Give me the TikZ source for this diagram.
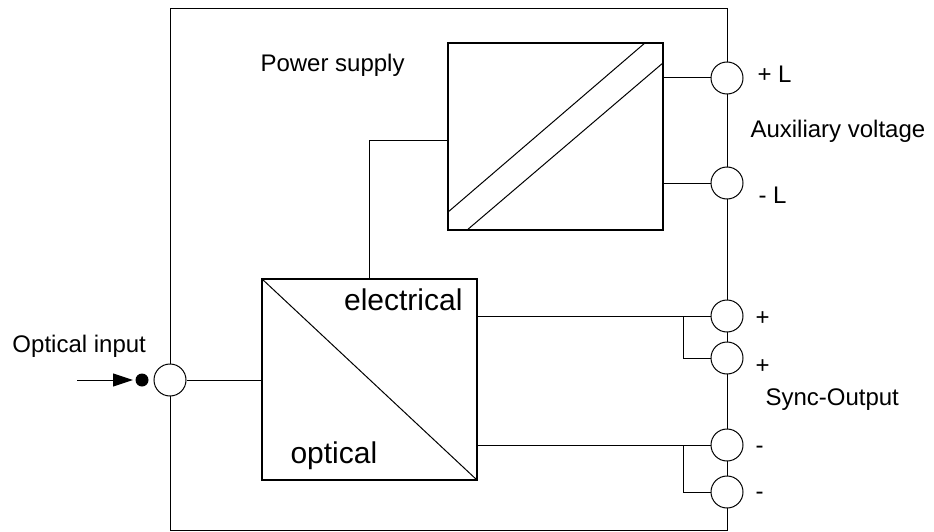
\documentclass[tikz,border=0pt]{standalone}
\usepackage{fontspec}
\setmainfont{Liberation Sans}
\usetikzlibrary{calc,arrows.meta}

\tikzset{
  term/.style={circle,draw,fill=white,minimum size=32pt,inner sep=0pt},
  conv/.style={draw,line width=1.2pt,fill=white,inner sep=0pt},
  txt/.style={inner sep=0pt,font=\fontsize{24}{28}\selectfont},
  bigtxt/.style={inner sep=0pt,font=\fontsize{30}{34}\selectfont}
}

\begin{document}
\begin{tikzpicture}[x=1pt,y=-1pt,line width=1pt]
    \useasboundingbox (0,0) rectangle (934,532);
    % housing
    \draw (170,9) rectangle (727,530);
    % converters
    \node[conv,minimum width=215pt,minimum height=201pt] (oe) at (369.5,379.5) {};
    \node[conv,minimum width=215pt,minimum height=187pt] (psu) at (555.5,136.5) {};
    \draw (oe.north west) -- (oe.south east);
    \draw ($(psu.south west)+(0,-18)$) -- ($(psu.north east)+(-18,0)$);
    \draw ($(psu.south west)+(19,0)$) -- ($(psu.north east)+(0,20)$);
    % terminals
    \node[term] (tin) at (170,380) {};
    \node[term] (tpl) at (727,78) {};
    \node[term] (tml) at (727,183) {};
    \node[term] (tsp1) at (727,316) {};
    \node[term] (tsp2) at (727,358) {};
    \node[term] (tsm1) at (727,445) {};
    \node[term] (tsm2) at (727,492) {};
    % wiring
    \draw (tin) -- (tin -| oe.west);
    \draw (oe.north) |- ($(psu.west)+(0,4)$);
    \draw (tpl) -- (tpl -| psu.east);
    \draw (tml) -- (tml -| psu.east);
    \draw (tsp1) -- (tsp1 -| oe.east);
    \draw (tsm1) -- (tsm1 -| oe.east);
    \coordinate (jp) at (683,316);
    \coordinate (jm) at (683,445);
    \draw (jp) |- (tsp2);
    \draw (jm) |- (tsm2);
    % optical input
    \coordinate (src) at (77,380);
    \node[circle,fill,inner sep=0pt,minimum size=13pt] (dot) at (142,380) {};
    \draw[-{Triangle[length=20pt,width=13pt]},shorten >=2pt] (src) -- (dot.west);
    %\draw[dashed] (dot) -- (tin);
    % labels
    \node[txt,anchor=base west] (lin) at (12,352) {Optical input};
    \node[txt,anchor=base west] (lpsu) at (260,72) {Power supply};
    \node[txt,anchor=base west] (lpl) at (757,83) {+ L};
    \node[txt,anchor=base west] (laux) at (750,138) {Auxiliary voltage};
    \node[txt,anchor=base west] (lml) at (758,203) {- L};
    \node[txt,anchor=base west] (lsp1) at (755,325) {+};
    \node[txt,anchor=base west] (lsp2) at (755,373) {+};
    \node[txt,anchor=base west] (lsync) at (765,405) {Sync-Output};
    \node[txt,anchor=base west] (lsm1) at (755,453) {-};
    \node[txt,anchor=base west] (lsm2) at (755,499) {-};
    \node[bigtxt,anchor=base east] (lel) at (463,310) {electrical};
    \node[bigtxt,anchor=base west] (lop) at (290,463) {optical};
\end{tikzpicture}
\end{document}
